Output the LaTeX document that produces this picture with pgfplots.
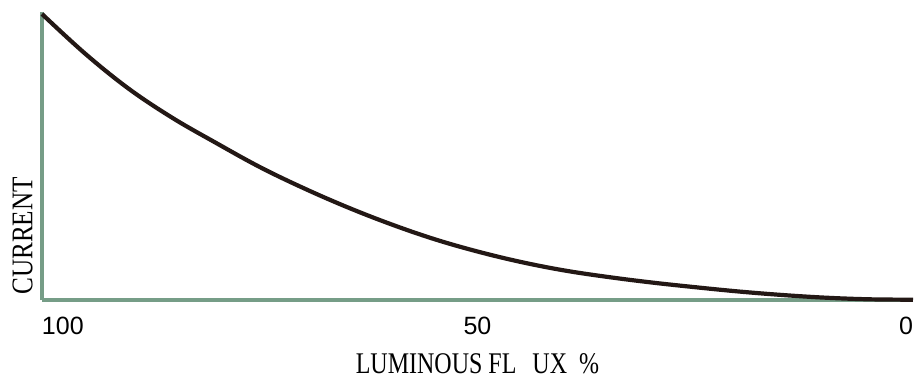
\documentclass[border=0pt]{standalone}
\usepackage{fontspec}
\setmainfont{Liberation Serif}
\newfontfamily\tickfont{Liberation Sans}
\usepackage{pgfplots}
\pgfplotsset{compat=1.18}
\definecolor{axgreen}{HTML}{769D87}
\definecolor{curve}{HTML}{231815}
\begin{document}
\begin{tikzpicture}
\begin{axis}[
  scale only axis,
  width=871pt, height=288pt,
  x dir=reverse,
  xmin=0, xmax=100, ymin=0, ymax=288,
  axis x line=bottom, axis y line=left,
  axis line style={-},
  x axis line style={draw=axgreen, line width=3.5pt},
  y axis line style={draw=axgreen, line width=3.5pt},
  xtick={100,50,0},
  xticklabels={\makebox[0pt][l]{100},50,\makebox[0pt][r]{0}},
  ytick=\empty,
  major tick length=0pt,
  xticklabel style={font=\tickfont\fontsize{25}{25}\selectfont, anchor=north, inner sep=0pt, yshift=-17pt},
  xlabel={\scalebox{0.8}[1]{LUMINOUS FL\hspace{20pt}UX\hspace{15pt}\%}},
  xlabel style={font=\fontsize{30}{30}\selectfont, at={(axis description cs:0.5,0)}, anchor=north, inner sep=0pt, yshift=-53pt},
  ylabel={\scalebox{0.84}[1]{CURRENT}},
  ylabel style={font=\fontsize{30}{30}\selectfont, at={(axis description cs:0,0)}, anchor=south west, inner sep=0pt, xshift=5pt, yshift=9pt},
  clip=false,
]
\addplot[curve, line width=4.2pt, smooth, tension=0.6] coordinates {
(100,286) (95,246) (90,211) (85,182) (80,157) (75,133) (70,112)
(65,93) (60,76) (55,61) (50,48.5) (45,38) (40,29.5) (35,23)
(30,17.5) (25,12.8) (20,8.5) (15,5) (10,2.3) (5,0.7) (0,0.3)
};
\coordinate (bl) at (rel axis cs:0,0);
\coordinate (tr) at (rel axis cs:1,1);
\end{axis}
\pgfresetboundingbox
\path ([xshift=-42pt,yshift=-78pt]bl) rectangle ([xshift=10pt,yshift=12pt]tr);
\end{tikzpicture}
\end{document}
